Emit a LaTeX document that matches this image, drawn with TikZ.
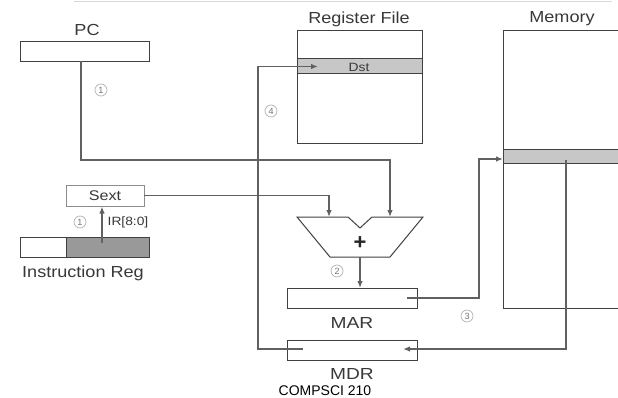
\documentclass[tikz,border=0pt]{standalone}
\usepackage{fontspec}
\setmainfont{Liberation Sans}
\usetikzlibrary{arrows.meta,calc}
\begin{document}
\begin{tikzpicture}[x=1pt,y=-1pt,
 box/.style={draw=black!75,line width=1pt,fill=white,inner sep=0pt},
 conn/.style={draw=black!62,line width=1.3pt},
 arr/.style={conn,-{Latex[length=7pt,width=5.5pt,fill=black!80]}},
 lbl/.style={text=black!78,inner sep=0pt,font=\fontsize{16}{16}\selectfont,xscale=1.13},
 small/.style={text=black!78,inner sep=0pt,font=\fontsize{12}{12}\selectfont,xscale=1.15},
 num/.style={circle,draw=black!30,line width=0.7pt,text=black!55,inner sep=0pt,minimum size=12pt,font=\fontsize{9}{9}\selectfont},
]
\useasboundingbox (0,0) rectangle (618,398);
\draw[black!15,line width=0.8pt] (74,1) -- (612,1);

% PC
\node[lbl] (pclbl) at (87,30) {PC};
\node[box,minimum width=129pt,minimum height=20pt] (pc) at (84.5,51.5) {};

% Register file
\node[lbl] (rflbl) at (359,19) {Register File};
\node[box,minimum width=125pt,minimum height=113pt] (rf) at (359.5,87.5) {};
\node[box,fill=black!22,minimum width=125pt,minimum height=15pt] (dst) at (359.5,66.5) {};
\node[small] (dsttxt) at (359,67) {Dst};

% Memory
\node[lbl] (memlbl) at (562,19) {Memory};
\coordinate (memTL) at (503,31);
\coordinate (memBL) at (503,308);
\fill[black!22] (503,150) rectangle (620,164);
\draw[black!75,line width=1pt] (620,31) -- (memTL) -- (memBL) -- (620,308);
\draw[black!75,line width=1pt] (503,150) -- (620,150) (503,164) -- (620,164);
\coordinate (memrow) at (503,159);

% Sext and IR
\node[box,draw=black!45,line width=0.7pt,minimum width=78pt,minimum height=21pt] (sext) at (105,195.5) {};
\node[text=black!78,inner sep=0pt,font=\fontsize{14}{14}\selectfont,xscale=1.15] (sexttxt) at (105,195.5) {Sext};
\node[box,minimum width=46pt,minimum height=20pt] (irw) at (43,247) {};
\node[box,fill=black!40,minimum width=83pt,minimum height=20pt] (irg) at (107.5,247) {};
\node[lbl] (irlbl) at (83,273) {Instruction Reg};
\node[small] (irbits) at (128,222) {IR[8:0]};
\node[num] (n1b) at (80,222) {1};
\coordinate (irsrc) at (102,243);
\draw[arr] (irsrc) -- (102,206.5);

% ALU
\draw[black!75,line width=1pt,fill=white] (297,217) -- (348,217) -- (360,228) -- (372,217) -- (423,217) -- (390,257) -- (330,257) -- cycle;
\node[text=black!85,inner sep=0pt,font=\fontsize{22}{22}\selectfont\bfseries] (plus) at (360,243) {+};
\coordinate (aluA) at (329,217);
\coordinate (aluB) at (390,217);
\coordinate (aluout) at (360,257);

% MAR, MDR
\node[box,minimum width=130pt,minimum height=20pt] (mar) at (352,298) {};
\node[lbl,xscale=1.06] (marlbl) at (352,323) {MAR};
\node[box,minimum width=130pt,minimum height=20pt] (mdr) at (352,350) {};
\node[lbl,xscale=1.06] (mdrlbl) at (352,374) {MDR};

% connectors
\coordinate (pcout) at (81,61.5);
\draw[arr] (pcout) -- (81,160) -- (390,160) -- (aluB);
\node[num] (n1a) at (101,90) {1};

\draw[arr] (sext.east) -- (329,195.5) -- (aluA);

\draw[arr] (aluout) -- (360,288);
\node[num] (n2) at (337,271) {2};

\coordinate (marsrc) at (407,298);
\draw[arr] (marsrc) -- (479,298) -- (479,159) -- (memrow);
\node[num] (n3) at (467,316) {3};

\coordinate (memsrc) at (566,160);
\coordinate (mdrin) at (403,349);
\draw[arr] (memsrc) -- (566,349) -- (mdrin);

\coordinate (mdrsrc) at (303,349);
\coordinate (dstin) at (318,66.5);
\draw[arr] (mdrsrc) -- (258,349) -- (258,66.5) -- (dstin);
\node[num] (n4) at (271,111) {4};

\node[text=black,inner sep=0pt,font=\fontsize{14}{14}\selectfont] (foot) at (325,391) {COMPSCI 210};
\end{tikzpicture}
\end{document}
